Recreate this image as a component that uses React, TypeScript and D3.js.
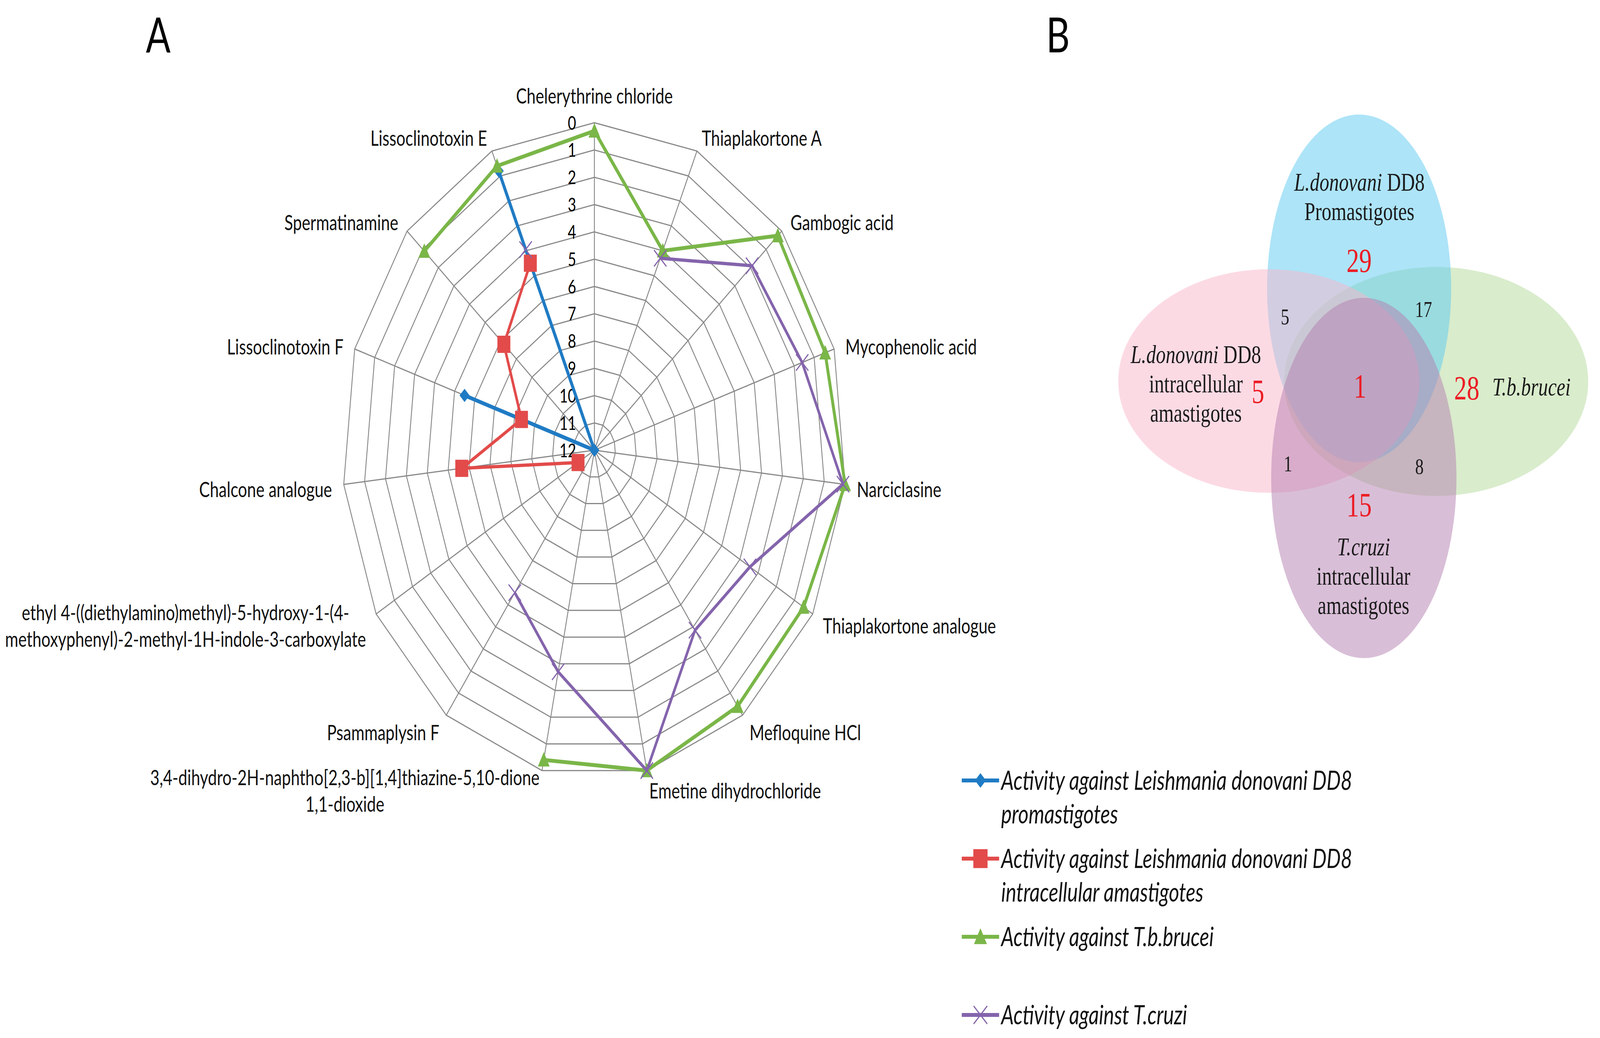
import * as d3 from "d3";
import { useEffect, useRef } from "react";

const W = 5440;
const H = 2656;

// spokes, clockwise from the top
const compounds = [
  "Chelerythrine chloride",
  "Thiaplakortone A",
  "Gambogic acid",
  "Mycophenolic acid",
  "Narciclasine",
  "Thiaplakortone analogue",
  "Mefloquine HCl",
  "Emetine dihydrochloride",
  "3,4-dihydro-2H-naphtho[2,3-b][1,4]thiazine-5,10-dione\n1,1-dioxide",
  "Psammaplysin F",
  "ethyl 4-((diethylamino)methyl)-5-hydroxy-1-(4-\nmethoxyphenyl)-2-methyl-1H-indole-3-carboxylate",
  "Chalcone analogue",
  "Lissoclinotoxin F",
  "Spermatinamine",
  "Lissoclinotoxin E",
];

const tickValues = [0, 1, 2, 3, 4, 5, 6, 7, 8, 9, 10, 11, 12];

const N = null;
// null = no point (gap in the line)
const ldPromastigotes = [N, N, N, N, N, N, N, N, N, N, N, N, 5.5, 12, 0.8];
const ldAmastigotes = [N, N, N, N, N, N, N, N, N, N, 11.1, 5.65, 8.35, 6.2, 4.5];
const tbBrucei = [0.3, 4.0, 0.25, 0.45, 0, 0.5, 0.4, 0, 0.4, N, N, N, N, 1.1, 0.6];
const tCruzi = [N, 4.3, 1.9, 1.6, 0.1, 3.45, 3.85, 0, 3.7, 5.55, N, N, N, N, 3.95];

const seriesNames = [
  "Activity against Leishmania donovani DD8\npromastigotes",
  "Activity against Leishmania donovani DD8\nintracellular amastigotes",
  "Activity against T.b.brucei",
  "Activity against T.cruzi",
];

// venn: *...* = italic
const vennSetLabels = [
  "*L.donovani* DD8\nPromastigotes",
  "*L.donovani* DD8\nintracellular\namastigotes",
  "*T.b.brucei*",
  "*T.cruzi*\nintracellular\namastigotes",
];
// 29 only promastigotes, 5 only amastigotes, 28 only brucei, 15 only cruzi,
// 5 pro+ama, 17 pro+brucei, 1 ama+cruzi, 8 brucei+cruzi, 1 all
const vennCounts = [29, 5, 28, 15, 5, 17, 1, 8, 1];

const colors = ["#1f7bc4", "#e24b4a", "#7ab648", "#8464ac"];
const markers = ["diamond", "square", "triangle", "x"];
const widths = [10, 8.5, 10, 8.5];
const sansFont = "Lato, 'Open Sans', sans-serif";
const serifFont = "'Liberation Serif', 'DejaVu Serif', serif";

type Sel = d3.Selection<SVGGElement, unknown, null, undefined>;

function drawMarker(g: Sel, kind: string, x: number, y: number, color: string, s = 1) {
  if (kind === "diamond") {
    const h = 17 * s;
    g.append("path").attr("d", `M${x},${y - h}L${x + h},${y}L${x},${y + h}L${x - h},${y}Z`).attr("fill", color);
  } else if (kind === "square") {
    const h = 22 * s;
    g.append("rect").attr("x", x - h).attr("y", y - h).attr("width", 2 * h).attr("height", 2 * h).attr("fill", color);
  } else if (kind === "triangle") {
    const h = 20 * s;
    g.append("path").attr("d", `M${x},${y - h}L${x + h},${y + h * 0.85}L${x - h},${y + h * 0.85}Z`).attr("fill", color);
  } else {
    const h = 21 * s;
    g.append("path")
      .attr("d", `M${x - h},${y - h}L${x + h},${y + h}M${x - h},${y + h}L${x + h},${y - h}`)
      .attr("stroke", color)
      .attr("stroke-width", 3.5)
      .attr("fill", "none");
  }
}

function drawRadar(g: Sel) {
  const cx = 2021, cy = 1152, rx = 857, ry = 838;
  const n = compounds.length;
  const angle = d3.scaleLinear().domain([0, n]).range([0, 2 * Math.PI]);
  const radius = d3.scaleLinear().domain([0, 12]).range([1, 0]);
  const px = (i: number, v: number) => cx + rx * radius(v) * Math.sin(angle(i));
  const py = (i: number, v: number) => cy - ry * radius(v) * Math.cos(angle(i));

  const grid = g.append("g").attr("stroke", "#888").attr("stroke-width", 3).attr("fill", "none");
  const ring = d3.line<number>().curve(d3.curveLinearClosed);
  tickValues.slice(0, -1).forEach((v) => {
    grid.append("path").attr("d", ring.x((i) => px(i, v)).y((i) => py(i, v))(d3.range(n)));
  });
  d3.range(n).forEach((i) => {
    grid.append("line").attr("x1", cx).attr("y1", cy).attr("x2", px(i, 0)).attr("y2", py(i, 0));
  });

  // axis ticks (reversed: 0 outside, 12 in the middle)
  g.append("g")
    .selectAll("text")
    .data(tickValues)
    .join("text")
    .attr("x", cx - 62)
    .attr("y", (v) => py(0, v))
    .attr("dy", "0.36em")
    .attr("text-anchor", "end")
    .attr("font-family", sansFont)
    .attr("font-size", 49)
    .text((v) => String(v));

  // category labels, excel style: box pushed out from the spoke end
  compounds.forEach((name, i) => {
    const a = angle(i);
    const s = Math.sin(a), c = Math.cos(a);
    const vx = px(i, 0), vy = py(i, 0);
    const ax = vx + 40 * s;
    const ay = Math.abs(s) < 0.05 ? vy - 69 : vy - 45 * c + 8;
    const lines = name.split("\n");
    const lg = g.append("g").attr("font-family", sansFont).attr("font-size", 54.5).attr("fill", "#111");
    const texts = lines.map((ln, k) =>
      lg.append("text")
        .attr("x", 0)
        .attr("y", (k - (lines.length - 1) / 2) * 68)
        .attr("dy", "0.36em")
        .attr("text-anchor", "middle")
        .text(ln)
    );
    const wMax = d3.max(texts, (t) => (t.node() as SVGTextElement).getComputedTextLength()) || 0;
    const ox = Math.abs(s) < 0.05 ? ax : s > 0 ? ax + wMax / 2 : ax - wMax / 2;
    lg.attr("transform", `translate(${ox},${ay})`);
  });

  const all = [ldPromastigotes, ldAmastigotes, tbBrucei, tCruzi];
  all.forEach((vals, si) => {
    const sg = g.append("g");
    const line = d3
      .line<number>()
      .defined((i) => vals[i % n] != null)
      .x((i) => px(i, vals[i % n] as number))
      .y((i) => py(i, vals[i % n] as number));
    sg.append("path")
      .attr("d", line(d3.range(n + 1)))
      .attr("fill", "none")
      .attr("stroke", colors[si])
      .attr("stroke-width", widths[si])
      .attr("stroke-linejoin", "round");
    vals.forEach((v, i) => {
      if (v == null) return;
      drawMarker(sg, markers[si], px(i, v), py(i, v), colors[si]);
    });
  });
}

function drawVenn(g: Sel) {
  // layout: blue top, pink left, green right, purple bottom
  const shapes = [
    { cx: 4621, cy: 738, rx: 313, ry: 445, fill: "#5bc9f1", order: 1 },
    { cx: 4314, cy: 975, rx: 512, ry: 286, fill: "#f9b5c9", order: 2 },
    { cx: 4883, cy: 976, rx: 517, ry: 293, fill: "#b3d999", order: 0 },
    { cx: 4637, cy: 1223, rx: 315, ry: 461, fill: "#b37daf", order: 3 },
  ];
  [...shapes]
    .sort((a, b) => a.order - b.order)
    .forEach((e) => {
      g.append("ellipse")
        .attr("cx", e.cx).attr("cy", e.cy).attr("rx", e.rx).attr("ry", e.ry)
        .attr("fill", e.fill).attr("fill-opacity", 0.5);
    });

  const labelPos = [
    { x: 4622, y: 465 },
    { x: 4066, y: 906 },
    { x: 5207, y: 989 },
    { x: 4636, y: 1398 },
  ];
  vennSetLabels.forEach((lab, si) => {
    lab.split("\n").forEach((ln, k) => {
      const t = g.append("text")
        .attr("x", labelPos[si].x)
        .attr("y", labelPos[si].y + k * 75)
        .attr("dy", "0.35em")
        .attr("text-anchor", "middle")
        .attr("font-family", serifFont)
        .attr("font-size", 66)
        .attr("fill", "#1a1a1a");
      ln.split("*").forEach((part, pi) => {
        if (!part) return;
        t.append("tspan").attr("font-style", pi % 2 === 1 ? "italic" : "normal").text(part);
      });
    });
  });

  const countPos = [
    { x: 4621, y: 666, red: true },
    { x: 4277, y: 1001, red: true },
    { x: 4987, y: 992, red: true },
    { x: 4621, y: 1291, red: true },
    { x: 4369, y: 810, red: false },
    { x: 4840, y: 791, red: false },
    { x: 4379, y: 1186, red: false },
    { x: 4826, y: 1193, red: false },
    { x: 4624, y: 987, red: true },
  ];
  vennCounts.forEach((c, k) => {
    const p = countPos[k];
    g.append("text")
      .attr("x", p.x)
      .attr("y", p.y)
      .attr("dy", "0.35em")
      .attr("text-anchor", "middle")
      .attr("font-family", serifFont)
      .attr("font-size", p.red ? 86 : 58)
      .attr("fill", p.red ? "#ec1c24" : "#1a1a1a")
      .text(String(c));
  });
}

function drawLegend(g: Sel) {
  const x0 = 3270, x1 = 3397, y0 = 1997, step = 200;
  seriesNames.forEach((name, si) => {
    const y = y0 + si * step;
    g.append("line").attr("x1", x0).attr("x2", x1).attr("y1", y).attr("y2", y)
      .attr("stroke", colors[si]).attr("stroke-width", 10);
    drawMarker(g, markers[si], (x0 + x1) / 2, y, colors[si], 1.1);
    name.split("\n").forEach((ln, k) => {
      g.append("text")
        .attr("x", 3404)
        .attr("y", y + k * 86)
        .attr("dy", "0.36em")
        .attr("font-family", sansFont)
        .attr("font-style", "italic")
        .attr("font-size", 68)
        .attr("fill", "#111")
        .text(ln);
    });
  });
}

export default function App() {
  const ref = useRef<SVGSVGElement>(null);
  useEffect(() => {
    const svg = d3.select(ref.current);
    svg.selectAll("*").remove();
    svg.append("rect").attr("width", W).attr("height", H).attr("fill", "#fff");
    drawRadar(svg.append("g") as unknown as Sel);
    drawVenn(svg.append("g") as unknown as Sel);
    drawLegend(svg.append("g") as unknown as Sel);
    svg.append("text").attr("x", 538).attr("y", 89).attr("dy", "0.36em").attr("text-anchor", "middle")
      .attr("font-family", sansFont).attr("font-size", 124).text("A");
    svg.append("text").attr("x", 3597).attr("y", 89).attr("dy", "0.36em").attr("text-anchor", "middle")
      .attr("font-family", sansFont).attr("font-size", 124).text("B");
  }, []);
  // the window comes out narrower than 5440, so the drawing is fitted to it
  return (
    <svg
      ref={ref}
      viewBox={`0 0 ${W} ${H}`}
      preserveAspectRatio="none"
      style={{ position: "absolute", left: 0, top: 0, width: "100vw", height: "100vh", display: "block" }}
    />
  );
}
